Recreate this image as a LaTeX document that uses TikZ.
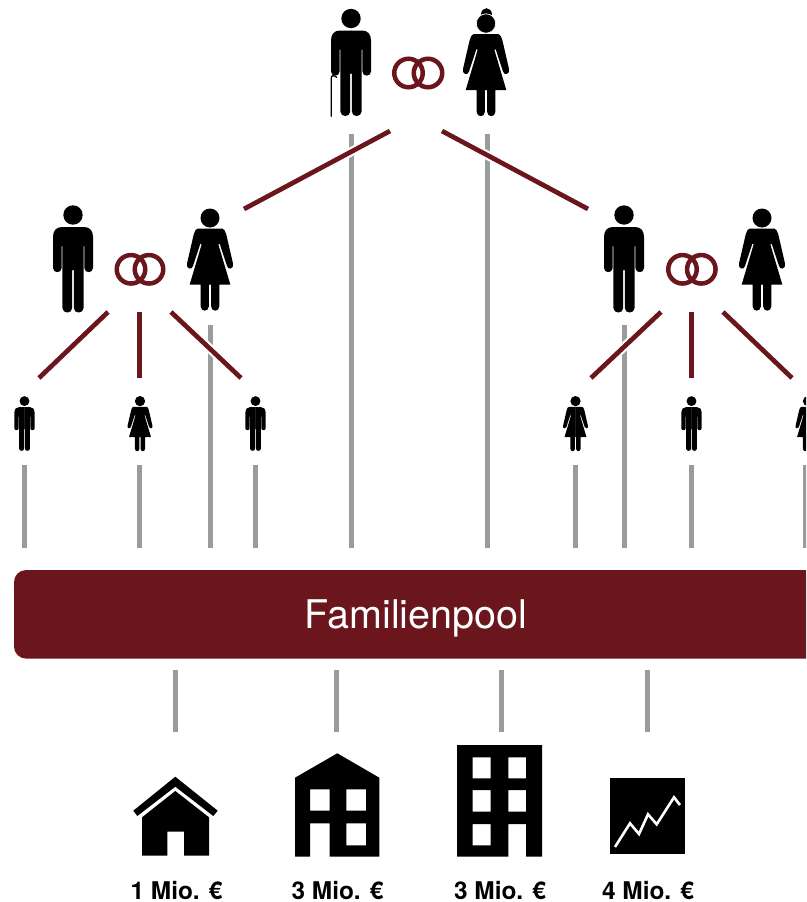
\documentclass[tikz,border=0pt]{standalone}
\usepackage{fontspec}
\setmainfont{TeX Gyre Heros}
\usepackage{xcolor}
\definecolor{pool_red}{HTML}{6A161C}
\definecolor{rail_grey}{HTML}{9A9C9B}

\begin{document}
\begin{tikzpicture}[
      x=1pt,y=-1pt,
      line_red/.style={
        draw=pool_red,
        line width=4.7pt,
        preaction={draw=white,line width=9pt},
        },
      line_grey/.style={
        draw=rail_grey,
        line width=5pt,
        },
      ring/.style={
        draw=pool_red,
        line width=4.5pt,
        },
      pool_box/.style={
        fill=pool_red,
        text=white,
        rounded corners=12pt,
        minimum width=804pt,
        minimum height=88.5pt,
        text height=28.6pt,
        text depth=0pt,
        font=\fontsize{39.5}{40}\selectfont},
      value_label/.style={
        font=\fontsize{24.4}{25}\selectfont\bfseries,
        inner sep=0pt},
      man_fig/.pic={
        \fill (0,10) circle[radius=9.7];
        \foreach \s in {1,-1}
          \fill[xscale=\s] (0.3,22) -- (-11,22) .. controls (-17,22) and (-20,26) .. (-20,32)
            -- (-20,63) .. controls (-20,68.5) and (-11.4,68.5) .. (-11.4,63)
            -- (-11.4,41) -- (-10.6,41) -- (-10.6,103)
            .. controls (-10.6,109) and (-0.8,109) .. (-0.8,103)
            -- (-0.8,65) -- (0.3,65) -- cycle;
      },
      woman_fig/.pic={
        \fill (0,9.5) circle[radius=9.5];
        \foreach \s in {1,-1}
          \fill[xscale=\s] (-0.3,20) -- (12.3,20) .. controls (14,20) and (15.5,23) .. (16.3,26)
            -- (23,55) .. controls (24.2,60.5) and (18,62) .. (17,57.5)
            -- (9.6,35) -- (8.4,36) -- (20.3,76) -- (9.3,76) -- (9.3,98)
            .. controls (9.3,103.5) and (1.2,103.5) .. (1.2,98)
            -- (1.2,76) -- (-0.3,76) -- cycle;
      }
]
      \clip (0,0) rectangle (806,902);

      %grandparents
      \pic (opa) at (351,8.5) {man_fig};
      \draw[line width=1.3pt] (331.3,116.5) -- (331.3,78) .. controls (331.3,75) and (334,75) .. (337,77.5);
      \pic (oma) at (486,14) {woman_fig};
      \fill (480.5,15) .. controls (480.5,5.5) and (491.5,5.5) .. (491.5,15) -- cycle;
      \fill[draw=white,line width=0.7pt] (486,23.5) circle[radius=9.7];

      %parents
      \pic (vater_l) at (73,205) {man_fig};
      \pic (mutter_l) at (210,208.5) {woman_fig};
      \pic (vater_r) at (624,205) {man_fig};
      \pic (mutter_r) at (762,208.5) {woman_fig};

      %children
      \foreach \n/\x in {kind_a/24.5,kind_c/255.5,kind_e/691.5}
        \pic[scale=0.51] (\n) at (\x,396) {man_fig};
      \foreach \n/\x in {kind_b/140,kind_d/575.5,kind_f/808}
        \pic[scale=0.54] (\n) at (\x,396) {woman_fig};

      %rings
      \foreach \n/\x/\y in {ring_a/408.5/73,ring_b/428/73,ring_c/131/269.3,ring_d/149/269.3,ring_e/682.5/269.3,ring_f/701.3/269.3}
        \node[ring,circle,minimum size=28.5pt,inner sep=0pt] (\n) at (\x,\y) {};

      %pool
      \node[pool_box] (pool) at (416,614.3) {Familienpool};

      %grey lines into the pool
      \foreach \n/\x/\ya in {g1/351.5/134,g2/487/134,g3/210.5/325,g4/624.5/325,g5/24.5/465,g6/139.5/465,g7/255.5/465,g8/575.5/465,g9/691.5/465,g10/805.5/465}
      {
        \coordinate (\n_a) at (\x,\ya);
        \coordinate (\n_b) at (\x,548);
        \draw[line_grey] (\n_a) -- (\n_b);
      }

      %grey lines out of the pool
      \foreach \n/\x in {h1/175.5,h2/336.5,h3/501.5,h4/647.5}
      {
        \coordinate (\n_a) at (\x,670);
        \coordinate (\n_b) at (\x,732);
        \draw[line_grey] (\n_a) -- (\n_b);
      }

      %red lines
      \foreach \n/\xa/\ya/\xb/\yb in {% name/start/end
        r1/390/131/244/209,
        r2/442/131/588/209,
        r3/108/312/39/378,
        r4/139.5/312/139.5/378,
        r5/171/312/241/378,
        r6/661/312/591/378,
        r7/691.5/312/691.5/378,
        r8/723/312/792/378}
      {
        \coordinate (\n_a) at (\xa,\ya);
        \coordinate (\n_b) at (\xb,\yb);
        \draw[line_red] (\n_a) -- (\n_b);
      }

      %house
      \fill (175.3,776.7) -- (217.7,810.7) -- (213.3,816) -- (175.3,786.7) -- (137.3,816) -- (133.3,810.7) -- cycle;
      \fill (175.3,791) -- (209,817.3) -- (209,855.7) -- (184,855.7) -- (184,831.7) -- (167.3,831.7)
        -- (167.3,855.7) -- (142,855.7) -- (142,817.3) -- cycle;

      %big house
      \fill[even odd rule] (337.3,753.3) -- (379.3,777.7) -- (379.3,856.7) -- (329.7,856.7) -- (329.7,823.3)
        -- (310,823.3) -- (310,856.7) -- (295,856.7) -- (295,777.7) -- cycle
        (310,789.3) rectangle (329.7,810.7)
        (346.3,789.3) rectangle (366,810.7)
        (346.3,823.3) rectangle (366,845.3);

      %block
      \fill[even odd rule] (457,745) -- (542,745) -- (542,856.7) -- (526,856.7) -- (526,824) -- (508.3,824)
        -- (508.3,856.7) -- (457,856.7) -- cycle
        (472.7,757.3) rectangle (490.7,778.3)
        (508.3,757.3) rectangle (526,778.3)
        (472.7,790) rectangle (490.7,811.7)
        (508.3,790) rectangle (526,811.7)
        (472.7,824) rectangle (490.7,845.3);

      %chart
      \fill (610,778) rectangle (685,854);
      \draw[white,line width=2.6pt] (615,847) -- (630,823.3) -- (639,834) -- (648,814.3) -- (656.7,824.3) -- (674,797.3) -- (680,805);

      %values
      \foreach \n/\x/\txt in {wert_a/176.5/1 Mio. €,wert_b/337.5/3 Mio. €,wert_c/500/3 Mio. €,wert_d/648/4 Mio. €}
        \node[value_label] (\n) at (\x,891) {\txt};
\end{tikzpicture}
\end{document}
